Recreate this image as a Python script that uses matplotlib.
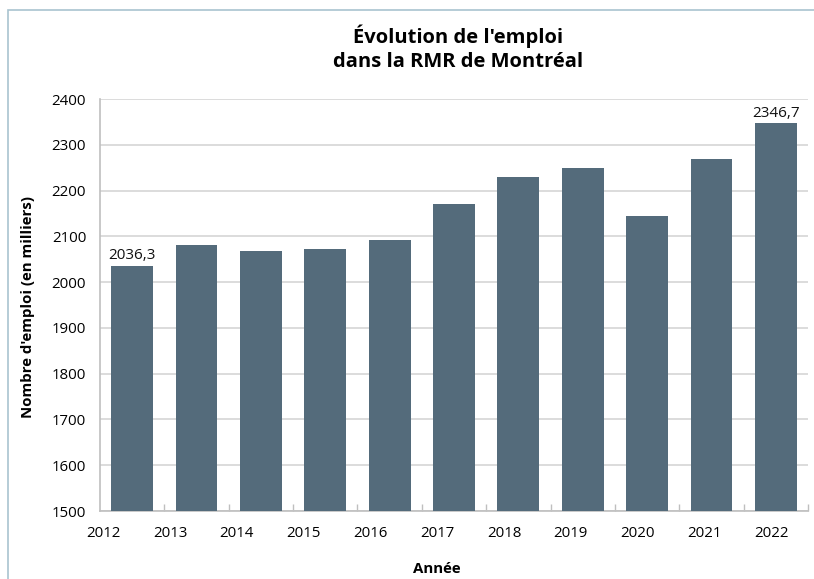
import numpy as np
from matplotlib import pyplot as plt
from matplotlib.patches import Rectangle

# données (en milliers)
annees = ['2012', '2013', '2014', '2015', '2016', '2017', '2018', '2019', '2020', '2021', '2022']
emploi = [2036.3, 2081, 2068, 2072, 2092, 2171, 2230, 2249, 2144, 2269, 2346.7]
etiquettes = {0: '2036,3', 10: '2346,7'}

plt.rcParams['font.family'] = ['Open Sans', 'DejaVu Sans']

fig = plt.figure(figsize=(8.14, 5.79), dpi=100)
ax = fig.add_axes([0.1229, 0.1174, 0.8697, 0.7116])

# cadre autour de la figure (seulement gauche et haut visibles)
fig.patches.append(Rectangle((8/814, -0.1), 1.2, 1 - 10/579 + 0.1, transform=fig.transFigure,
                             fill=False, edgecolor='#a9c3d0', linewidth=1.2))

x = np.arange(len(annees))
ax.bar(x, np.array(emploi) - 1500, bottom=1500, width=0.65, color='#546b7b', zorder=3)

for i, txt in etiquettes.items():
    ax.text(x[i], emploi[i] + 6, txt, ha='center', va='bottom', fontsize=11, color='#111111')

ax.set_xlim(-0.5, 10.5)
ax.set_ylim(1500, 2400)
ax.set_yticks(np.arange(1500, 2401, 100))
ax.grid(axis='y', color='#d6d6d6', linewidth=1.2, zorder=0)

# étiquettes d'années (décalées comme dans l'original)
ax.set_xticks(np.linspace(-0.45, 9.93, 11))
ax.set_xticklabels(annees)
ax.set_xticks(np.arange(0.5, 10.6, 1), minor=True)
ax.tick_params(axis='x', which='major', length=0, labelsize=10.8, pad=11)
ax.tick_params(axis='x', which='minor', direction='in', length=5, color='#bfbfbf', width=1)
ax.tick_params(axis='y', length=0, labelsize=10.8, pad=10)

for s in ['top', 'right']:
    ax.spines[s].set_visible(False)
for s in ['left', 'bottom']:
    ax.spines[s].set_color('#bfbfbf')
    ax.spines[s].set_linewidth(1.2)

fig.text(0.563, 0.917, "Évolution de l'emploi\ndans la RMR de Montréal", ha='center', va='center',
         fontsize=14.5, fontweight='bold', linespacing=1.3)
fig.text(0.034, 0.47, "Nombre d'emploi (en milliers)", rotation=90, ha='center', va='center',
         fontsize=10.8, fontweight='bold')
fig.text(0.537, 0.018, 'Année', ha='center', va='center', fontsize=10.8, fontweight='bold')

fig.savefig('out.png', dpi=100)
